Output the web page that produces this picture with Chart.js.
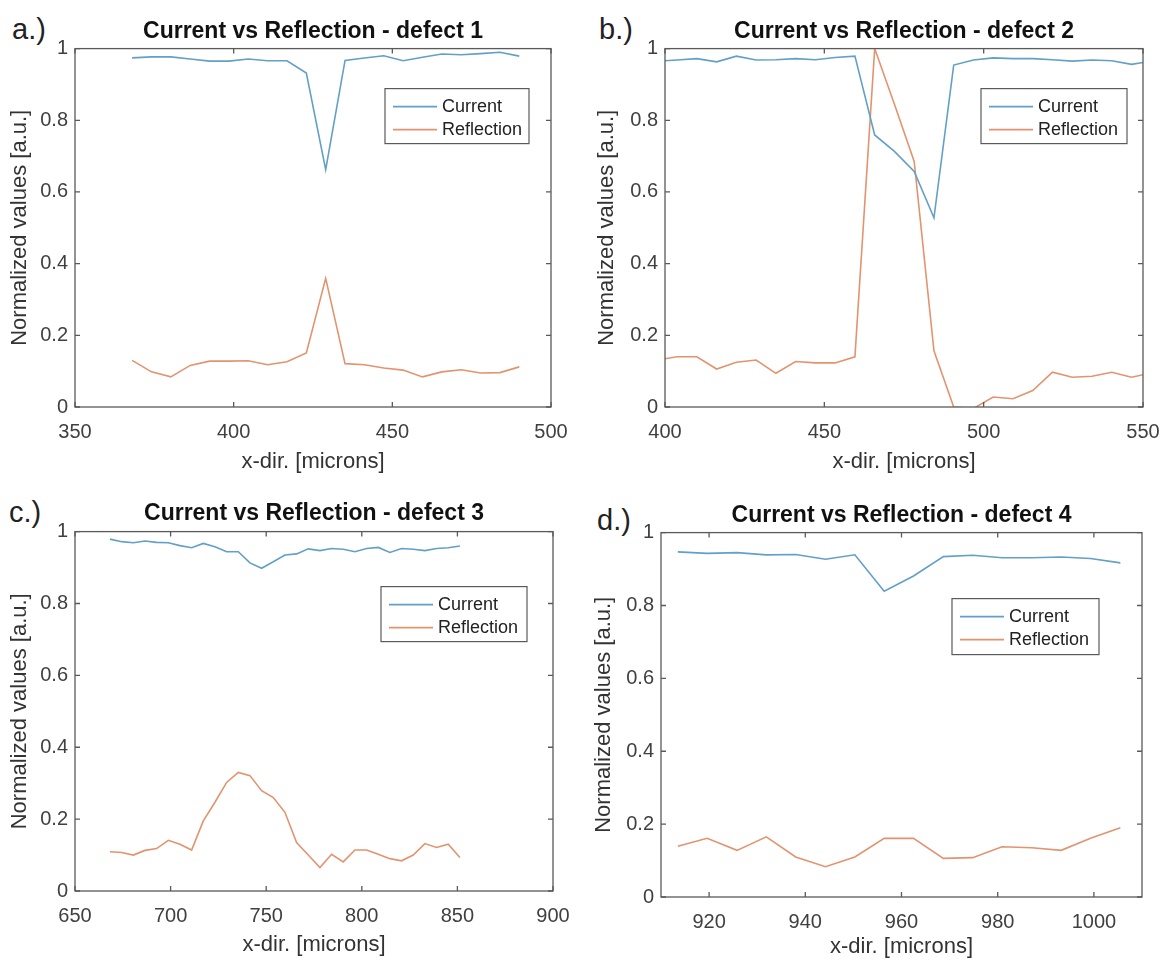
<!DOCTYPE html>
<html lang="en">
<head>
<meta charset="UTF-8">
<title>Current vs Reflection - defects 1 to 4</title>
<script src="https://cdn.jsdelivr.net/npm/chart.js@4.4.1/dist/chart.umd.min.js"></script>
<style>
    * { margin: 0; padding: 0; box-sizing: border-box; }
    body {
        width: 1166px;
        height: 967px;
        background: #ffffff;
        position: relative;
        overflow: hidden;
        font-family: 'Liberation Sans', Arial, sans-serif;
    }
    canvas { position: absolute; }
    .tag {
        position: absolute;
        font-size: 29px;
        line-height: 1;
        color: #222;
    }
</style>
</head>
<body>
<div class="tag" style="left:12px; top:15px;">a.)</div>
<div class="tag" style="left:599px; top:15px;">b.)</div>
<div class="tag" style="left:9px; top:498px;">c.)</div>
<div class="tag" style="left:597px; top:506px;">d.)</div>

<canvas id="chartA"></canvas>
<canvas id="chartB"></canvas>
<canvas id="chartC"></canvas>
<canvas id="chartD"></canvas>

<script>
// shared ticks
const yTicks = [0, 0.2, 0.4, 0.6, 0.8, 1];

// defect 1
const xTicksA = [350, 400, 450, 500];
const xA = [368, 374.1, 380.2, 386.3, 392.4, 398.5, 404.6, 410.7, 416.8, 422.9, 429,
            435.1, 441.2, 447.3, 453.4, 459.5, 465.6, 471.7, 477.8, 483.9, 490];
const currentA = [0.974, 0.977, 0.977, 0.971, 0.965, 0.965, 0.971, 0.966, 0.966, 0.932, 0.662,
                  0.967, 0.974, 0.980, 0.966, 0.976, 0.985, 0.983, 0.986, 0.990, 0.979];
const reflectionA = [0.130, 0.098, 0.084, 0.116, 0.128, 0.128, 0.129, 0.118, 0.126, 0.151, 0.359,
                     0.121, 0.118, 0.109, 0.103, 0.084, 0.098, 0.104, 0.095, 0.096, 0.112];

// defect 2
const xTicksB = [400, 450, 500, 550];
const xB = [397.6, 403.8, 410, 416.2, 422.4, 428.6, 434.8, 441, 447.2, 453.4, 459.6, 465.8, 472,
            478.2, 484.4, 490.6, 496.8, 503, 509.2, 515.4, 521.6, 527.8, 534, 540.2, 546.4, 552.6];
const currentB = [0.965, 0.968, 0.972, 0.963, 0.979, 0.968, 0.969, 0.972, 0.969, 0.975, 0.979, 0.759, 0.713,
                  0.657, 0.528, 0.954, 0.968, 0.974, 0.972, 0.972, 0.969, 0.965, 0.968, 0.966, 0.956, 0.965];
const reflectionB = [0.131, 0.140, 0.140, 0.106, 0.125, 0.131, 0.094, 0.127, 0.123, 0.123, 0.140, 1.0, 0.845,
                     0.685, 0.157, 0.0, -0.004, 0.028, 0.023, 0.046, 0.097, 0.083, 0.086, 0.097, 0.083, 0.095];

// defect 3
const xTicksC = [650, 700, 750, 800, 850, 900];
const xC = [668.3, 674.4, 680.5, 686.6, 692.7, 698.8, 704.9, 711, 717.1, 723.2, 729.3, 735.4, 741.5, 747.6,
            753.7, 759.8, 765.9, 772, 778.1, 784.2, 790.3, 796.4, 802.5, 808.6, 814.7, 820.8, 826.9, 833,
            839.1, 845.2, 851.3];
const currentC = [0.979, 0.972, 0.969, 0.974, 0.970, 0.969, 0.961, 0.955, 0.967, 0.958, 0.944, 0.944, 0.913, 0.898,
                  0.916, 0.935, 0.938, 0.952, 0.947, 0.953, 0.951, 0.944, 0.953, 0.956, 0.942, 0.953, 0.951, 0.947,
                  0.953, 0.955, 0.960];
const reflectionC = [0.109, 0.107, 0.100, 0.113, 0.118, 0.141, 0.130, 0.114, 0.195, 0.247, 0.302, 0.330, 0.321, 0.279,
                     0.260, 0.219, 0.135, 0.100, 0.065, 0.102, 0.081, 0.114, 0.114, 0.102, 0.090, 0.084, 0.100, 0.132,
                     0.121, 0.130, 0.093];

// defect 4
const xTicksD = [920, 940, 960, 980, 1000];
const xD = [913.5, 919.6, 925.8, 931.9, 938, 944.2, 950.3, 956.4, 962.5, 968.7, 974.8, 980.9, 987.1, 993.2,
            999.3, 1005.5];
const currentD = [0.947, 0.943, 0.945, 0.939, 0.940, 0.927, 0.939, 0.839, 0.881, 0.934, 0.938, 0.931, 0.931,
                  0.933, 0.929, 0.917];
const reflectionD = [0.139, 0.161, 0.128, 0.165, 0.110, 0.083, 0.110, 0.161, 0.161, 0.106, 0.108, 0.138, 0.135,
                     0.128, 0.161, 0.190];

const CURRENT_COLOR = '#62a0c8';
const REFLECTION_COLOR = '#e2946f';
const FONT = "'Liberation Sans', Arial, sans-serif";

function points(xs, ys) {
    return xs.map((x, i) => ({ x: x, y: ys[i] }));
}

// box around the plot with inward tick marks, like the original figure
const matlabAxes = {
    id: 'matlabAxes',
    afterDraw(chart) {
        const { ctx, chartArea: a, scales } = chart;
        const len = 5;
        ctx.save();
        ctx.strokeStyle = '#5a5a5a';
        ctx.lineWidth = 1.3;
        ctx.strokeRect(a.left, a.top, a.right - a.left, a.bottom - a.top);
        ctx.beginPath();
        scales.x.ticks.forEach(t => {
            const px = scales.x.getPixelForValue(t.value);
            ctx.moveTo(px, a.bottom); ctx.lineTo(px, a.bottom - len);
            ctx.moveTo(px, a.top); ctx.lineTo(px, a.top + len);
        });
        scales.y.ticks.forEach(t => {
            const py = scales.y.getPixelForValue(t.value);
            ctx.moveTo(a.left, py); ctx.lineTo(a.left + len, py);
            ctx.moveTo(a.right, py); ctx.lineTo(a.right - len, py);
        });
        ctx.stroke();
        ctx.restore();
    }
};

// legend box inside the plot area, top right
const insetLegend = {
    id: 'insetLegend',
    afterDraw(chart, args, opts) {
        const { ctx, chartArea: a } = chart;
        const x = a.right - opts.right - opts.width;
        const y = a.top + opts.top;
        ctx.save();
        ctx.fillStyle = '#ffffff';
        ctx.fillRect(x, y, opts.width, opts.height);
        ctx.strokeStyle = '#5a5a5a';
        ctx.lineWidth = 1.2;
        ctx.strokeRect(x, y, opts.width, opts.height);
        ctx.font = '18px ' + FONT;
        ctx.textBaseline = 'middle';
        ctx.textAlign = 'left';
        chart.data.datasets.forEach((ds, i) => {
            const ry = y + 18 + i * 23;
            ctx.strokeStyle = ds.borderColor;
            ctx.lineWidth = 1.6;
            ctx.beginPath();
            ctx.moveTo(x + 8, ry);
            ctx.lineTo(x + 52, ry);
            ctx.stroke();
            ctx.fillStyle = '#222';
            ctx.fillText(ds.label, x + 57, ry);
        });
        ctx.restore();
    }
};

function makePanel(id, p) {
    const canvas = document.getElementById(id);
    canvas.width = p.width;
    canvas.height = p.height;
    canvas.style.left = p.left + 'px';
    canvas.style.top = p.top + 'px';

    return new Chart(canvas, {
        type: 'line',
        data: {
            datasets: [
                {
                    label: 'Current',
                    data: points(p.xs, p.current),
                    borderColor: CURRENT_COLOR,
                    borderWidth: 1.6,
                    pointRadius: 0,
                    tension: 0
                },
                {
                    label: 'Reflection',
                    data: points(p.xs, p.reflection),
                    borderColor: REFLECTION_COLOR,
                    borderWidth: 1.6,
                    pointRadius: 0,
                    tension: 0
                }
            ]
        },
        options: {
            responsive: false,
            animation: false,
            events: [],
            layout: { padding: { left: 0, right: p.padRight, top: 0, bottom: 0 } },
            plugins: {
                legend: { display: false },
                tooltip: { enabled: false },
                title: {
                    display: true,
                    text: p.title,
                    fullSize: false,
                    color: '#111',
                    font: { family: FONT, size: 23, weight: 'bold' },
                    padding: { top: p.titleTop, bottom: p.titleBottom }
                },
                insetLegend: p.legend
            },
            scales: {
                x: {
                    type: 'linear',
                    min: p.xMin,
                    max: p.xMax,
                    afterBuildTicks: s => { s.ticks = p.xTicks.map(v => ({ value: v })); },
                    afterFit: s => {
                        s.height = p.xAxisHeight;
                        s.paddingLeft = 0;
                        s.paddingRight = 0;
                    },
                    grid: { display: false, drawTicks: false },
                    border: { display: false },
                    ticks: {
                        color: '#404040',
                        font: { family: FONT, size: 20 },
                        padding: 13,
                        maxRotation: 0,
                        autoSkip: false,
                        callback: v => String(v)
                    },
                    title: {
                        display: true,
                        text: 'x-dir. [microns]',
                        color: '#333',
                        font: { family: FONT, size: 22 },
                        padding: { top: 0, bottom: p.xTitleBottom }
                    }
                },
                y: {
                    type: 'linear',
                    min: 0,
                    max: 1,
                    afterBuildTicks: s => { s.ticks = yTicks.map(v => ({ value: v })); },
                    afterFit: s => {
                        s.width = p.yAxisWidth;
                        s.paddingTop = 0;
                        s.paddingBottom = 0;
                    },
                    grid: { display: false, drawTicks: false },
                    border: { display: false },
                    ticks: {
                        color: '#404040',
                        font: { family: FONT, size: 20 },
                        padding: 7,
                        callback: v => String(v)
                    },
                    title: {
                        display: true,
                        text: 'Normalized values [a.u.]',
                        color: '#333',
                        font: { family: FONT, size: 22 },
                        padding: { top: p.yTitleTop, bottom: 0 }
                    }
                }
            }
        },
        plugins: [matlabAxes, insetLegend]
    });
}

makePanel('chartA', {
    left: 0, top: 0, width: 586, height: 482, padRight: 35,
    title: 'Current vs Reflection - defect 1', titleTop: 18, titleBottom: 3,
    xs: xA, current: currentA, reflection: reflectionA,
    xMin: 350, xMax: 500, xTicks: xTicksA,
    yAxisWidth: 75, xAxisHeight: 75, xTitleBottom: 7, yTitleTop: 7,
    legend: { right: 22, top: 40, width: 144, height: 55 }
});

makePanel('chartB', {
    left: 590, top: 0, width: 573, height: 482, padRight: 20,
    title: 'Current vs Reflection - defect 2', titleTop: 18, titleBottom: 3,
    xs: xB, current: currentB, reflection: reflectionB,
    xMin: 400, xMax: 550, xTicks: xTicksB,
    yAxisWidth: 75, xAxisHeight: 75, xTitleBottom: 7, yTitleTop: 4,
    legend: { right: 16, top: 40, width: 146, height: 55 }
});

makePanel('chartC', {
    left: 0, top: 490, width: 588, height: 476, padRight: 35,
    title: 'Current vs Reflection - defect 3', titleTop: 10, titleBottom: 4,
    xs: xC, current: currentC, reflection: reflectionC,
    xMin: 650, xMax: 900, xTicks: xTicksC,
    yAxisWidth: 75, xAxisHeight: 75, xTitleBottom: 8, yTitleTop: 7,
    legend: { right: 26, top: 55, width: 146, height: 55 }
});

makePanel('chartD', {
    left: 586, top: 490, width: 576, height: 477, padRight: 20,
    title: 'Current vs Reflection - defect 4', titleTop: 12, titleBottom: 3,
    xs: xD, current: currentD, reflection: reflectionD,
    xMin: 910, xMax: 1010, xTicks: xTicksD,
    yAxisWidth: 75, xAxisHeight: 70, xTitleBottom: 7, yTitleTop: 5,
    legend: { right: 43, top: 66, width: 147, height: 56 }
});
</script>
</body>
</html>
